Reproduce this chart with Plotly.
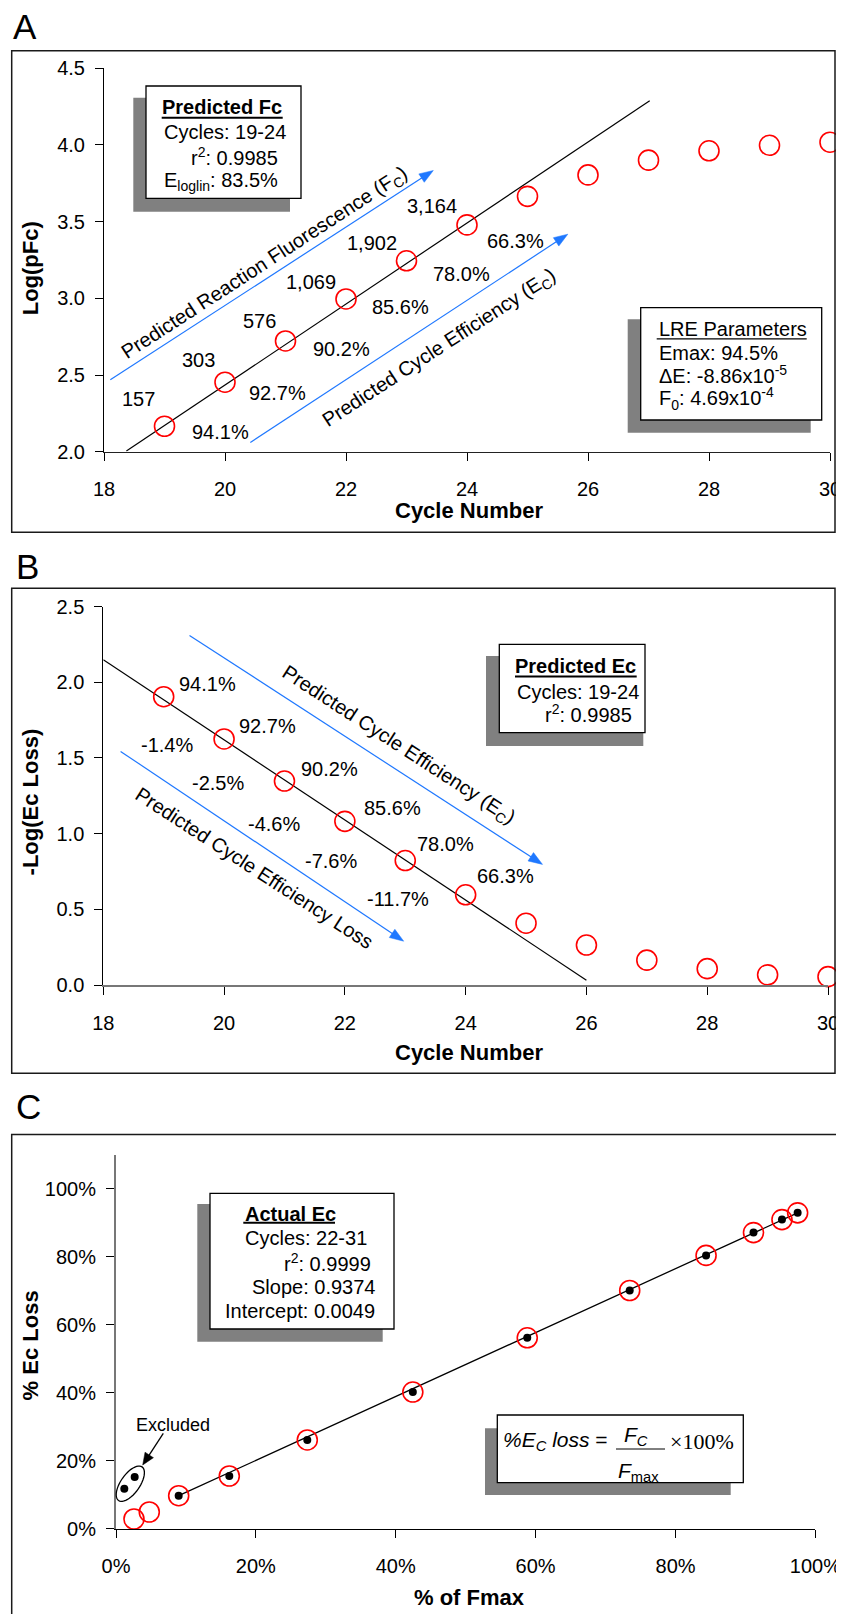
import math
import plotly.graph_objects as go

# The page body has an 8px margin, so the figure is drawn 8px in from the window's corner.
OFF = 8
W, H = 844 - OFF, 1614 - OFF
FONT = "Liberation Sans, Arial, Helvetica, sans-serif"
SERIF = "Liberation Serif, Times New Roman, serif"
BLUE = "#1F78FF"
RED = "#FF0000"

# ---------------- data ----------------
cycles = [19, 20, 21, 22, 23, 24, 25, 26, 27, 28, 29, 30]
log_pfc = [2.166, 2.453, 2.722, 2.996, 3.245, 3.479, 3.665, 3.805, 3.901, 3.962, 3.998, 4.018]
fit_a_x = [18.37, 27.02]
fit_a_y = [2.004, 4.289]
pfc_labels = ["157", "303", "576", "1,069", "1,902", "3,164"]
eff_labels = ["94.1%", "92.7%", "90.2%", "85.6%", "78.0%", "66.3%"]

neg_log_loss = [1.904, 1.625, 1.347, 1.081, 0.822, 0.596, 0.408, 0.264, 0.164, 0.108, 0.067, 0.055]
fit_b_x = [18.0, 26.0]
fit_b_y = [2.148, 0.032]
loss_labels = ["-1.4%", "-2.5%", "-4.6%", "-7.6%", "-11.7%"]

fmax_actual = [0.0119, 0.0267, 0.0896, 0.162, 0.2735, 0.4244, 0.588, 0.7345, 0.8437, 0.9115, 0.9522, 0.9746]
loss_actual = [0.1174, 0.1518, 0.0971, 0.155, 0.261, 0.402, 0.5615, 0.7006, 0.8038, 0.8709, 0.9091, 0.929]
fmax_pred = [0.0257, 0.0476, 0.0896, 0.162, 0.2735, 0.4244, 0.588, 0.7345, 0.8437, 0.9115, 0.9522, 0.9746]
loss_pred = [0.0285, 0.0491, 0.0971, 0.155, 0.261, 0.402, 0.5615, 0.7006, 0.8038, 0.8709, 0.9091, 0.929]
fit_c_x = [0.0896, 0.9746]
fit_c_y = [0.0971, 0.929]

# label offsets (styling, px)
pfc_dy = [27, 22, 20, 17, 18, 19]
eff_a_dx = [25, 22, 25, 24, 24, 18]
eff_a_dy = [-6, -11, -8, -8, -13, -16]
eff_b_dx = [13, 13, 15, 17, 10, 9]
eff_b_dy = [13, 13, 12, 13, 17, 19]
loss_b_dx = [-29, -38, -43, -46, -35]
loss_b_dy = [-6, -2, -3, 0, -4]


def PX(x):
    return (x - OFF) / W


def PY(y):
    return 1 - (y - OFF) / H


fig = go.Figure()

# Panel A
fig.add_trace(go.Scatter(x=fit_a_x, y=fit_a_y, mode="lines", line=dict(color="black", width=1.2),
                         xaxis="x", yaxis="y", cliponaxis=False))
fig.add_trace(go.Scatter(x=cycles, y=log_pfc, mode="markers", xaxis="x", yaxis="y", cliponaxis=False,
                         marker=dict(symbol="circle-open", size=20, color=RED, line=dict(width=1.6, color=RED))))
# Panel B
fig.add_trace(go.Scatter(x=fit_b_x, y=fit_b_y, mode="lines", line=dict(color="black", width=1.2),
                         xaxis="x2", yaxis="y2", cliponaxis=False))
fig.add_trace(go.Scatter(x=cycles, y=neg_log_loss, mode="markers", xaxis="x2", yaxis="y2", cliponaxis=False,
                         marker=dict(symbol="circle-open", size=20, color=RED, line=dict(width=1.6, color=RED))))
# Panel C
fig.add_trace(go.Scatter(x=fit_c_x, y=fit_c_y, mode="lines", line=dict(color="black", width=1.3),
                         xaxis="x3", yaxis="y3", cliponaxis=False))
fig.add_trace(go.Scatter(x=fmax_pred, y=loss_pred, mode="markers", xaxis="x3", yaxis="y3", cliponaxis=False,
                         marker=dict(symbol="circle-open", size=20, color=RED, line=dict(width=1.6, color=RED))))
fig.add_trace(go.Scatter(x=fmax_actual, y=loss_actual, mode="markers", xaxis="x3", yaxis="y3", cliponaxis=False,
                         marker=dict(symbol="circle", size=8, color="black")))

tickfont = dict(family=FONT, size=20, color="black")


def xax(dom, rng, dtick, fmt, lc="black", lw=1):
    return dict(domain=[PX(dom[0]), PX(dom[1])], range=rng, dtick=dtick, tick0=rng[0], tickformat=fmt,
                showline=True, linecolor=lc, linewidth=lw, ticks="outside", ticklen=8, tickcolor="black",
                tickwidth=1, showgrid=False, zeroline=False, tickfont=tickfont, ticklabelstandoff=11,
                fixedrange=True, automargin=False)


def yax(dom, rng, dtick, fmt, lc="black", lw=1):
    return dict(domain=[PY(dom[0]), PY(dom[1])], range=rng, dtick=dtick, tick0=0, tickformat=fmt,
                showline=True, linecolor=lc, linewidth=lw, ticks="outside", ticklen=8, tickcolor="black",
                tickwidth=1, showgrid=False, zeroline=False, tickfont=tickfont, ticklabelstandoff=6,
                fixedrange=True, automargin=False)


layout = dict(
    template="none",
    width=W, height=H, autosize=False, margin=dict(l=0, r=0, t=0, b=0, pad=0, autoexpand=False),
    paper_bgcolor="white", plot_bgcolor="white",
    showlegend=False,
    xaxis=dict(xax([104, 830], [18, 30], 2, "d", lc="#222"), anchor="y"),
    yaxis=dict(yax([451.7, 68.3], [2, 4.5], 0.5, ".1f"), anchor="x"),
    xaxis2=dict(xax([103.3, 828], [18, 30], 2, "d", lc="#777", lw=2), anchor="y2"),
    yaxis2=dict(yax([985, 606.5], [0, 2.5], 0.5, ".1f"), anchor="x2"),
    xaxis3=dict(xax([116, 815.4], [0, 1], 0.2, ".0%"), anchor="y3"),
    yaxis3=dict(yax([1528.7, 1528.7 - 1.1 * 340], [0, 1.1], 0.2, ".0%", lc="#777", lw=2), anchor="x3"),
)

shapes = []
ann = []


def rect(x0, y0, x1, y1, fill=None, line_color=None, lw=0):
    d = dict(type="rect", xref="paper", yref="paper", x0=PX(x0), x1=PX(x1), y0=PY(y1), y1=PY(y0), layer="above")
    d["fillcolor"] = fill if fill else "rgba(0,0,0,0)"
    d["line"] = dict(color=line_color or "rgba(0,0,0,0)", width=lw)
    shapes.append(d)


def hline(x0, x1, y, lw=1, color="black"):
    shapes.append(dict(type="line", xref="paper", yref="paper", x0=PX(x0), x1=PX(x1), y0=PY(y), y1=PY(y),
                       line=dict(color=color, width=lw), layer="above"))


def arrow(tail, tip, color, head_len=14, head_w=10, lw=1.2):
    dx, dy = tip[0] - tail[0], tip[1] - tail[1]
    L = math.hypot(dx, dy)
    ux, uy = dx / L, dy / L
    bx, by = tip[0] - ux * head_len, tip[1] - uy * head_len
    shapes.append(dict(type="line", xref="paper", yref="paper", x0=PX(tail[0]), y0=PY(tail[1]),
                       x1=PX(bx + ux * 2), y1=PY(by + uy * 2), line=dict(color=color, width=lw), layer="above"))
    px_, py_ = -uy, ux
    p1 = (bx + px_ * head_w / 2, by + py_ * head_w / 2)
    p2 = (bx - px_ * head_w / 2, by - py_ * head_w / 2)
    path = "M{},{} L{},{} L{},{} Z".format(PX(tip[0]), PY(tip[1]), PX(p1[0]), PY(p1[1]), PX(p2[0]), PY(p2[1]))
    shapes.append(dict(type="path", xref="paper", yref="paper", path=path, fillcolor=color,
                       line=dict(color=color, width=0.5), layer="above"))


def text(x, y, s, size=20, xanchor="center", yanchor="middle", angle=0, family=FONT, color="black"):
    ann.append(dict(x=PX(x), y=PY(y), xref="paper", yref="paper", text=s, showarrow=False,
                    font=dict(family=family, size=size, color=color), xanchor=xanchor, yanchor=yanchor,
                    textangle=angle))


# panel frames (C runs off the right and bottom edges)
rect(11.7, 50.7, 835, 532.3, line_color="#1a1a1a", lw=1.5)
rect(11.7, 588.2, 835, 1073.3, line_color="#1a1a1a", lw=1.5)
rect(11.7, 1134.5, 870, 1640, line_color="#1a1a1a", lw=1.5)

# panel letters
text(25, 26, "A", size=35)
text(27, 566, "B", size=35)
text(28, 1106, "C", size=35)

# axis titles
text(469, 511, "<b>Cycle Number</b>", size=22)
text(30.7, 268.6, "<b>Log(pFc)</b>", size=22, angle=-90)
text(469, 1052, "<b>Cycle Number</b>", size=22)
text(30.7, 801.7, "<b>-Log(Ec Loss)</b>", size=22, angle=-90)
text(469, 1597, "<b>% of Fmax</b>", size=22)
text(30.7, 1345.7, "<b>% Ec Loss</b>", size=22, angle=-90)

# Box A1: Predicted Fc
rect(133.3, 97.7, 290, 211.7, fill="#808080")
rect(146, 86, 301, 198.3, fill="white", line_color="black", lw=1.3)
text(222.2, 107.3, "<b>Predicted Fc</b>")
hline(161.7, 282.7, 117.7, lw=2)
text(161.7, 131.7, "Cycles: 19-24", xanchor="left")
text(189.3, 156, "r<sup>2</sup>: 0.9985", xanchor="left")
text(161.7, 182, "E<sub>loglin</sub>: 83.5%", xanchor="left")

# Box A2: LRE parameters
rect(627.7, 319.3, 810.7, 432.7, fill="#808080")
rect(640.7, 307.7, 821.7, 420, fill="white", line_color="black", lw=1.3)
text(656.7, 329.3, "LRE Parameters", xanchor="left")
hline(656.7, 806.7, 338.8, lw=1.3)
text(656.7, 353.3, "Emax: 94.5%", xanchor="left")
text(656.7, 374.5, "ΔE: -8.86x10<sup>-5</sup>", xanchor="left")
text(656.7, 398.5, "F<sub>0</sub>: 4.69x10<sup>-4</sup>", xanchor="left")

# Box B: Predicted Ec
rect(486, 656, 643.3, 746, fill="#808080")
rect(499.3, 644.3, 645, 732.7, fill="white", line_color="black", lw=1.3)
text(575.8, 666, "<b>Predicted Ec</b>")
hline(515, 636.7, 676.5, lw=2)
text(515, 691.7, "Cycles: 19-24", xanchor="left")
text(542.7, 713.3, "r<sup>2</sup>: 0.9985", xanchor="left")

# Box C1: Actual Ec
rect(197.3, 1204, 382.7, 1341.7, fill="#808080")
rect(210, 1193.3, 394, 1329, fill="white", line_color="black", lw=1.3)
text(243.3, 1214.3, "<b>Actual Ec</b>", xanchor="left")
hline(243.3, 335, 1222.8, lw=2)
text(242.7, 1238.3, "Cycles: 22-31", xanchor="left")
text(373.3, 1262.7, "r<sup>2</sup>: 0.9999", xanchor="right")
text(377.3, 1286.7, "Slope: 0.9374", xanchor="right")
text(376.7, 1310.7, "Intercept: 0.0049", xanchor="right")

# Box C2: formula
rect(485, 1428.3, 730.7, 1495, fill="#808080")
rect(497.3, 1415, 743.3, 1482.7, fill="white", line_color="black", lw=1.3)
text(500.7, 1441, "<i>%E<sub>C</sub> loss</i> =", xanchor="left", size=21)
text(636.3, 1436, "<i>F<sub>C</sub></i>", size=21)
hline(616, 665, 1449, lw=1)
text(638.9, 1471.7, "<i>F</i><sub>max</sub>", size=21)
text(701.7, 1441, "×100%", family=SERIF, size=22)

# blue arrows + rotated texts
arrow((110.3, 379.8), (433.3, 170.5), BLUE)
arrow((250.3, 442.5), (567.8, 234.2), BLUE)
arrow((189.5, 635.4), (542.5, 864.4), BLUE)
arrow((120.6, 751.4), (403.7, 941.2), BLUE)
text(265, 263.5, "Predicted Reaction Fluorescence (F<sub>C</sub>)", angle=-33)
text(439.4, 348.6, "Predicted Cycle Efficiency (E<sub>C</sub>)", angle=-33)
text(398.3, 745, "Predicted Cycle Efficiency (E<sub>C</sub>)", angle=33)
text(254.3, 868, "Predicted Cycle Efficiency Loss", angle=33)

# Excluded
t = [i * 2 * math.pi / 48 for i in range(49)]
cx, cy, a, b, th = 130.3, 1483.7, 20.5, 9.5, math.radians(55)
pts = []
for tt in t:
    ex = cx + a * math.cos(tt) * math.cos(th) - b * math.sin(tt) * math.sin(th)
    ey = cy - (a * math.cos(tt) * math.sin(th) + b * math.sin(tt) * math.cos(th))
    pts.append("{},{}".format(PX(ex), PY(ey)))
shapes.append(dict(type="path", xref="paper", yref="paper", path="M" + " L".join(pts) + " Z",
                   line=dict(color="black", width=1.3), fillcolor="rgba(0,0,0,0)", layer="above"))
arrow((163.3, 1433.3), (142.7, 1465), "black", head_len=12, head_w=10, lw=1.3)
text(172.7, 1425, "Excluded", size=18)

# point labels A
for c, v, s, dy in zip(cycles, log_pfc, pfc_labels, pfc_dy):
    ann.append(dict(x=c, y=v, xref="x", yref="y", text=s, showarrow=False, xanchor="right", yanchor="middle",
                    xshift=-8, yshift=dy, font=dict(family=FONT, size=20, color="black")))
for c, v, s, dx, dy in zip(cycles, log_pfc, eff_labels, eff_a_dx, eff_a_dy):
    ann.append(dict(x=c, y=v, xref="x", yref="y", text=s, showarrow=False, xanchor="left", yanchor="middle",
                    xshift=dx, yshift=dy, font=dict(family=FONT, size=20, color="black")))
# point labels B
for c, v, s, dx, dy in zip(cycles, neg_log_loss, eff_labels, eff_b_dx, eff_b_dy):
    ann.append(dict(x=c, y=v, xref="x2", yref="y2", text=s, showarrow=False, xanchor="left", yanchor="middle",
                    xshift=dx, yshift=dy, font=dict(family=FONT, size=20, color="black")))
for c, v, s, dx, dy in zip(cycles[1:], neg_log_loss[1:], loss_labels, loss_b_dx, loss_b_dy):
    ann.append(dict(x=c, y=v, xref="x2", yref="y2", text=s, showarrow=False, xanchor="right", yanchor="middle",
                    xshift=dx, yshift=dy, font=dict(family=FONT, size=20, color="black")))

layout["shapes"] = shapes
layout["annotations"] = ann
fig.update_layout(**layout)
fig.write_html("out.html")
